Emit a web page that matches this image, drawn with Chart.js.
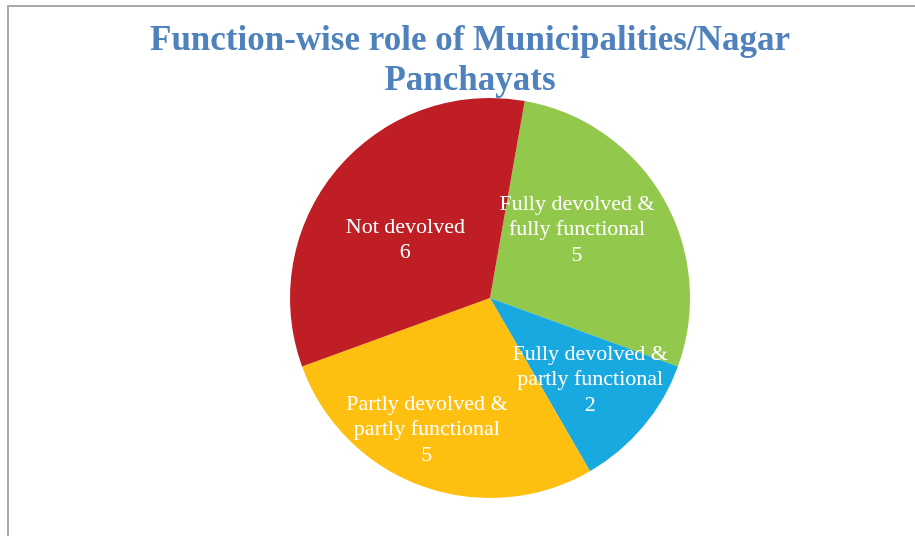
<!DOCTYPE html>
<html>
<head>
<meta charset="utf-8">
<script src="https://cdn.jsdelivr.net/npm/chart.js@4.4.0/dist/chart.umd.min.js"></script>
<style>
  html, body { margin: 0; padding: 0; background: #fff; }
  #wrap { position: relative; width: 915px; height: 536px; overflow: hidden; }
  #frame {
    position: absolute; left: 7px; top: 5px; width: 1000px; height: 600px;
    border-top: 2px solid #a8a8a8; border-left: 2px solid #a8a8a8;
  }
  #title {
    position: absolute; left: 0; top: 19px; width: 940px;
    text-align: center; color: #4F81BD;
    font: bold 35px "Liberation Serif", "Times New Roman", serif;
    line-height: 39.5px;
  }
  #chart { position: absolute; left: 0; top: 0; }
</style>
</head>
<body>
<div id="wrap">
  <div id="frame"></div>
  <canvas id="chart" width="915" height="536"></canvas>
  <div id="title">Function-wise role of Municipalities/Nagar<br>Panchayats</div>
</div>
<script>
// Slice categories (each label split into its display lines)
const categories = [
    ['Fully devolved &', 'fully functional'],
    ['Fully devolved &', 'partly functional'],
    ['Partly devolved &', 'partly functional'],
    ['Not devolved']
];
const functionCounts = [5, 2, 5, 6];
const sliceColors = ['#92C84B', '#17A9E0', '#FDBF10', '#BE1E24'];

// Where Excel put each data label: shift from slice middle (deg) and fraction of radius
const labelAngleShift = [-9, -1.5, 6, -4.5];
const labelRadiusFrac = [0.56, 0.64, 0.72, 0.52];

// Draw the white in-slice data labels (category + value)
const sliceLabels = {
    id: 'sliceLabels',
    afterDatasetsDraw(chart) {
        const ctx = chart.ctx;
        const meta = chart.getDatasetMeta(0);
        const lineH = 25.5;
        ctx.save();
        ctx.fillStyle = '#ffffff';
        ctx.font = '22px "Liberation Serif", "Times New Roman", serif';
        ctx.textAlign = 'center';
        ctx.textBaseline = 'middle';
        meta.data.forEach((arc, i) => {
            const p = arc.getProps(['x', 'y', 'startAngle', 'endAngle', 'outerRadius'], true);
            const mid = (p.startAngle + p.endAngle) / 2 + labelAngleShift[i] * Math.PI / 180;
            const r = p.outerRadius * labelRadiusFrac[i];
            const cx = p.x + Math.cos(mid) * r;
            const cy = p.y + Math.sin(mid) * r + 2;
            const lines = categories[i].concat([String(functionCounts[i])]);
            const top = cy - (lines.length - 1) * lineH / 2;
            lines.forEach((txt, k) => {
                ctx.fillText(txt, cx, top + k * lineH);
            });
        });
        ctx.restore();
    }
};

new Chart(document.getElementById('chart'), {
    type: 'pie',
    data: {
        labels: categories,
        datasets: [{
            data: functionCounts,
            backgroundColor: sliceColors,
            borderWidth: 0
        }]
    },
    options: {
        responsive: false,
        animation: false,
        rotation: 10,
        layout: {
            padding: { top: 98, bottom: 38, left: 290, right: 225 }
        },
        plugins: {
            legend: { display: false },
            tooltip: { enabled: false },
            title: { display: false }
        }
    },
    plugins: [sliceLabels]
});
</script>
</body>
</html>
